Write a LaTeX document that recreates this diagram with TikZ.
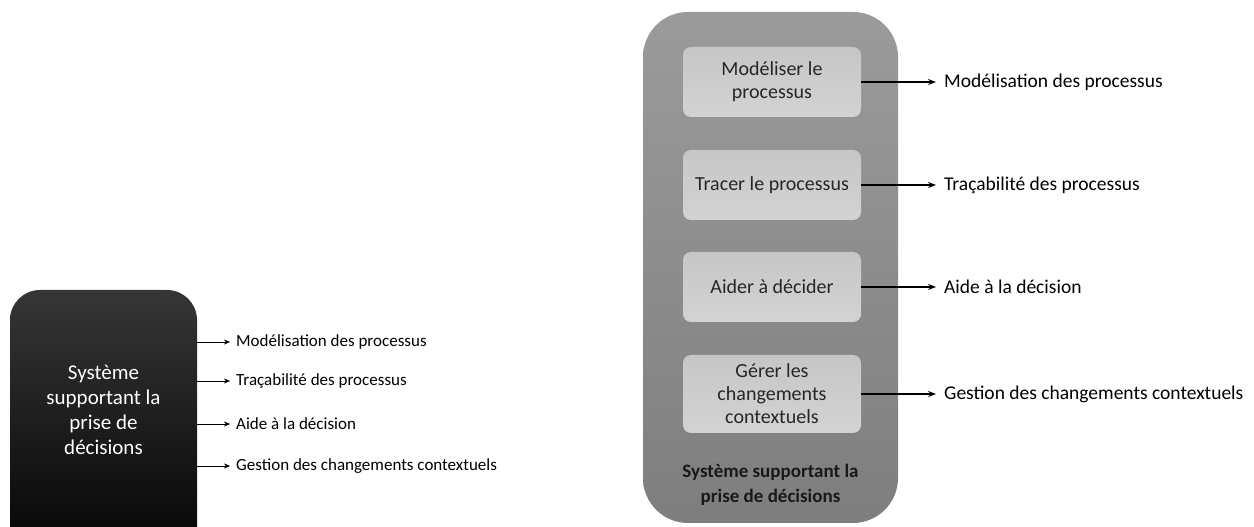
\documentclass[tikz,border=0pt]{standalone}
\usepackage{fontspec}
\setmainfont{Carlito}
\usetikzlibrary{arrows.meta}
\definecolor{darktop}{HTML}{363636}
\definecolor{greytop}{HTML}{9B9B9B}
\definecolor{greybot}{HTML}{7E7E7E}
\definecolor{cardtop}{HTML}{C6C6C6}
\definecolor{cardbot}{HTML}{D3D3D3}
\begin{document}
\begin{tikzpicture}[x=1pt,y=1pt,>={Stealth[length=8pt,width=6pt]},
    sysbox/.style={rounded corners=30pt, top color=darktop, bottom color=black},
    groupbox/.style={rounded corners=45pt, top color=greytop, bottom color=greybot},
    stepbox/.style={rounded corners=8pt, top color=cardtop, bottom color=cardbot,
        minimum width=178, minimum height=70, align=center, text=black!85,
        font=\fontsize{20}{23}\selectfont},
    smalllab/.style={anchor=west, inner sep=6pt, font=\fontsize{17}{20}\selectfont},
    biglab/.style={anchor=west, inner sep=8pt, font=\fontsize{19.5}{23}\selectfont}]
    \useasboundingbox (0,0) rectangle (1254,527);
    % left: the whole system as one block (runs off the bottom edge)
    \node[sysbox, minimum width=187, minimum height=290] (sys) at (103.5,92) {};
    \node[text=white, align=center, font=\fontsize{21}{25}\selectfont] (systxt)
        at (103.5,117) {Système\\supportant la\\prise de\\décisions};
    \node[smalllab] (l1) at (230,185) {Modélisation des processus};
    \node[smalllab] (l2) at (230,146) {Traçabilité des processus};
    \node[smalllab] (l3) at (230,103) {Aide à la décision};
    \node[smalllab] (l4) at (230,61) {Gestion des changements contextuels};
    \foreach \n in {l1,l2,l3,l4}
        \draw[-{Stealth[length=6pt,width=5pt]}] (sys.east |- \n.west) -- (\n.west);
    % right: the system split into its functions
    \node[groupbox, minimum width=255, minimum height=511] (grp) at (770.5,259.5) {};
    \node[stepbox] (s1) at (772,445) {Modéliser le\\processus};
    \node[stepbox] (s2) at (772,342) {Tracer le processus};
    \node[stepbox] (s3) at (772,240) {Aider à décider};
    \node[stepbox, minimum height=78] (s4) at (772,133) {Gérer les\\changements\\contextuels};
    \node[align=center, text=black!90, font=\bfseries\fontsize{19}{25}\selectfont] (title)
        at (770.5,42.5) {Système supportant la\\prise de décisions};
    \node[biglab] (r1) at (936,445) {Modélisation des processus};
    \node[biglab] (r2) at (936,342) {Traçabilité des processus};
    \node[biglab] (r3) at (936,240) {Aide à la décision};
    \node[biglab] (r4) at (936,133) {Gestion des changements contextuels};
    \draw[->, line width=1.3pt] (s1) -- (r1);
    \draw[->, line width=1.3pt] (s2) -- (r2);
    \draw[->, line width=1.3pt] (s3) -- (r3);
    \draw[->, line width=1.3pt] (s4) -- (r4);
\end{tikzpicture}
\end{document}
